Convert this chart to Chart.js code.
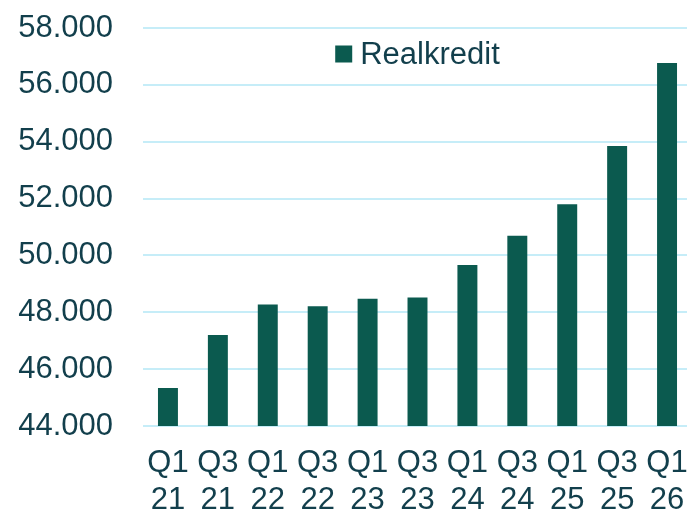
<!DOCTYPE html>
<html>
<head>
<meta charset="utf-8">
<script src="https://cdn.jsdelivr.net/npm/chart.js@4.4.1/dist/chart.umd.min.js"></script>
<style>
  html, body { margin: 0; padding: 0; background: #fff; overflow: hidden; }
  #wrap { position: relative; width: 692px; height: 513px; }
</style>
</head>
<body>
<div id="wrap"><canvas id="chartRealkredit"></canvas></div>
<script>
// data
const kvartaler = [['Q1', '21'], ['Q3', '21'], ['Q1', '22'], ['Q3', '22'], ['Q1', '23'], ['Q3', '23'],
    ['Q1', '24'], ['Q3', '24'], ['Q1', '25'], ['Q3', '25'], ['Q1', '26']];
const realkredit = [45340, 47200, 48270, 48210, 48480, 48520, 49660, 50690, 51800, 53850, 56770];
const yMin = 44000;
const yMax = 58000;
const yStep = 2000;

const tekstFarve = '#123f4c';
const barFarve = '#0b5a4f';
const gitterFarve = '#c6edf8';
const fontFamilie = '"Liberation Sans", Arial, sans-serif';

// 58000 -> "58.000"
const formatTal = (v) => v.toString().replace(/\B(?=(\d{3})+(?!\d))/g, '.');

// legende inde i plotområdet, centreret i toppen
const legendePlugin = {
    id: 'legendeInde',
    afterDraw(chart) {
        const { ctx, chartArea } = chart;
        const ds = chart.data.datasets[0];
        ctx.save();
        ctx.font = `31px ${fontFamilie}`;
        const tekstBredde = ctx.measureText(ds.label).width;
        const boks = 17, mellemrum = 8;
        const total = boks + mellemrum + tekstBredde;
        const x0 = (chartArea.left + chartArea.right) / 2 - total / 2;
        const yMidt = chartArea.top + 26;
        ctx.fillStyle = ds.backgroundColor;
        ctx.fillRect(x0, yMidt - boks / 2, boks, boks);
        ctx.fillStyle = tekstFarve;
        ctx.textBaseline = 'middle';
        ctx.textAlign = 'left';
        ctx.fillText(ds.label, x0 + boks + mellemrum, yMidt + 1);
        ctx.restore();
    }
};

const canvas = document.getElementById('chartRealkredit');
const ctx = canvas.getContext('2d');

const chart = new Chart(ctx, {
    type: 'bar',
    data: {
        labels: kvartaler,
        datasets: [{
            label: 'Realkredit',
            data: realkredit,
            backgroundColor: barFarve,
            borderWidth: 0,
            barPercentage: 0.4,
            categoryPercentage: 1
        }]
    },
    options: {
        responsive: true,
        maintainAspectRatio: false,
        animation: false,
        layout: {
            padding: { top: 28, right: 0, bottom: 0, left: 0 }
        },
        plugins: {
            legend: { display: false },
            tooltip: { enabled: false }
        },
        scales: {
            x: {
                grid: { display: false, drawTicks: false },
                border: { display: false },
                ticks: {
                    color: tekstFarve,
                    maxRotation: 0,
                    autoSkip: false,
                    padding: 19,
                    font: { family: fontFamilie, size: 31, lineHeight: 1.2 }
                },
                afterFit: (scale) => {
                    scale.height = 87;
                    scale.paddingLeft = 0;
                    scale.paddingRight = 0;
                }
            },
            y: {
                min: yMin,
                max: yMax,
                grid: { color: gitterFarve, lineWidth: 2, drawTicks: false },
                border: { display: false },
                ticks: {
                    stepSize: yStep,
                    color: tekstFarve,
                    padding: 30,
                    font: { family: fontFamilie, size: 31 },
                    callback: (v) => formatTal(v)
                },
                afterFit: (scale) => {
                    scale.width = 143;
                    scale.paddingTop = 0;
                    scale.paddingBottom = 0;
                }
            }
        }
    },
    plugins: [legendePlugin]
});
</script>
</body>
</html>
